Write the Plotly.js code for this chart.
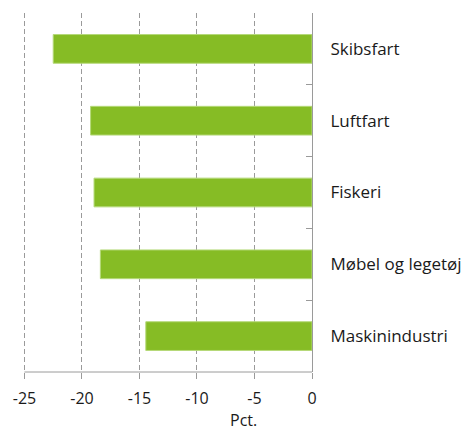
<!DOCTYPE html>
<html>
<head>
<meta charset="utf-8">
<script src="https://cdn.plot.ly/plotly-3.0.1.min.js"></script>
<style>html,body{margin:0;padding:0;background:#fff;}#chart{width:473px;height:431px;}</style>
</head>
<body>
<div id="chart"></div>
<script>
const categories = ["Skibsfart", "Luftfart", "Fiskeri", "Møbel og legetøj", "Maskinindustri"];
const values = [-22.5, -19.25, -18.95, -18.4, -14.45];
const xTickValues = [-25, -20, -15, -10, -5, 0];
const xTickLabels = ["-25", "-20", "-15", "-10", "-5", "0"];
const xTitle = "Pct.";

const trace = {
  type: "bar",
  orientation: "h",
  y: categories,
  x: values,
  marker: { color: "#86bc25", line: { color: "#b5d979", width: 1 } },
  hoverinfo: "none"
};

const layout = {
  width: 473, height: 431,
  margin: { l: 21, r: 161, t: 13, b: 59 },
  paper_bgcolor: "#fff", plot_bgcolor: "#fff",
  font: { family: "Open Sans, Noto Sans, sans-serif", size: 16, color: "#1a1a1a" },
  showlegend: false,
  bargap: 0.6,
  xaxis: {
    range: [-25.3, 0],
    tickvals: xTickValues,
    ticktext: xTickLabels,
    tickfont: { size: 16 },
    showgrid: true, gridcolor: "#9a9a9a", gridwidth: 1, griddash: "5px,3px",
    zeroline: false,
    showline: false,
    ticks: "outside", ticklen: 6, tickcolor: "#9a9a9a",
    ticklabelstandoff: 6,
    fixedrange: true
  },
  yaxis: {
    type: "category",
    categoryorder: "array",
    categoryarray: categories,
    autorange: "reversed",
    side: "right",
    showgrid: false, zeroline: false,
    showline: true, linecolor: "#9a9a9a", linewidth: 1,
    ticks: "inside", tickson: "boundaries", ticklen: 6, tickcolor: "#9a9a9a",
    tickfont: { size: 17 },
    ticklabelstandoff: 14,
    fixedrange: true
  },
  shapes: [{
    type: "line", xref: "x", yref: "paper",
    x0: xTickValues[0], x1: xTickValues[xTickValues.length - 1], y0: 0, y1: 0,
    line: { color: "#9a9a9a", width: 1 }
  }],
  annotations: [{
    text: xTitle, xref: "paper", yref: "paper",
    x: 0.766, y: -0.135, xanchor: "center", yanchor: "middle",
    borderpad: 0,
    showarrow: false, font: { size: 16 }
  }]
};

Plotly.newPlot("chart", [trace], layout, { staticPlot: true, displayModeBar: false });
</script>
</body>
</html>
